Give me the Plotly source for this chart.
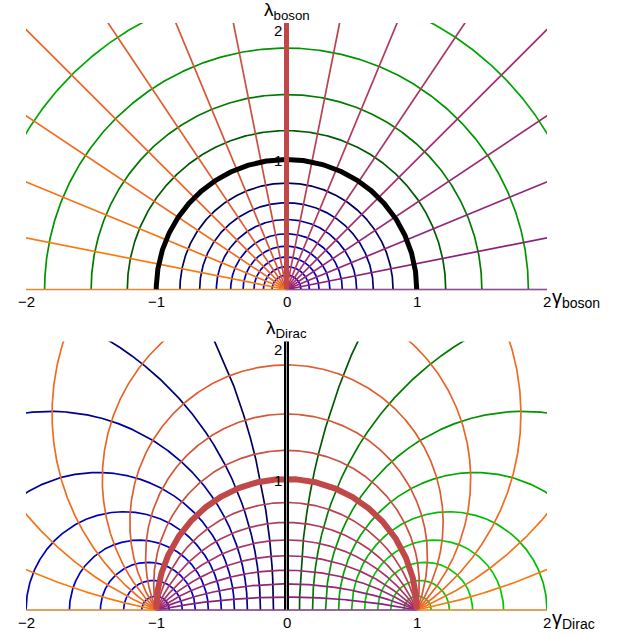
import numpy as np
import plotly.graph_objects as go

# ---------------- data ----------------
# circle family: Dirac-axis crossing a = k/10  (boson radius r = (1+a)/(1-a))
circle_params = [-0.9, -0.8, -0.7, -0.6, -0.5, -0.4, -0.3, -0.2, -0.1, 0.0,
                 0.1, 0.2, 0.3, 0.4, 0.5, 0.6, 0.7, 0.8, 0.9]
# ray family: angle index k, theta = k*pi/16
ray_index = list(range(17))
ray_divisions = 16
x_ticks = [-2, -1, 0, 1, 2]
x_tick_labels = ["\u22122", "\u22121", "0", "1", "2"]
y_ticks = [1, 2]
y_tick_labels = ["1", "2"]
panel_titles_y = ["\u03bb<sub>boson</sub>", "\u03bb<sub>Dirac</sub>"]
panel_titles_x = ["\u03b3<sub>boson</sub>", "\u03b3<sub>Dirac</sub>"]

# ---------------- styles ----------------
ray_anchor_t = [0.0, 0.25, 0.5, 0.75, 1.0]
ray_anchor_rgb = [(128, 30, 128), (165, 45, 112), (192, 72, 72), (232, 102, 40), (255, 130, 8)]


def ray_color(k):
    t = k / ray_divisions
    rgb = [np.interp(t, ray_anchor_t, [c[i] for c in ray_anchor_rgb]) for i in range(3)]
    return "rgb(%d,%d,%d)" % tuple(int(round(v)) for v in rgb)


def circle_color(a):
    if a == 0:
        return "black"
    s = abs(a) ** 0.45
    if a > 0:
        return "rgb(0,%d,0)" % min(205, int(255 * s))
    return "rgb(0,0,%d)" % min(235, int(255 * s))


THIN = 1.7
THICK = 5
THICK_B = 6
YMIN, YMAX = -0.03, 2.05
W, H = 620, 637


def to_dirac(z):
    with np.errstate(divide="ignore", invalid="ignore"):
        w = (z - 1) / (z + 1)
    return w


def xy(w, limit=30):
    x = np.real(w).astype(float)
    y = np.imag(w).astype(float)
    bad = ~np.isfinite(x) | ~np.isfinite(y) | (np.abs(w) > limit)
    xs = [None if b else float(v) for v, b in zip(x, bad)]
    ys = [None if b else float(v) for v, b in zip(y, bad)]
    return xs, ys


fig = go.Figure()


def add(xs, ys, color, width, xa, ya):
    fig.add_trace(go.Scatter(x=xs, y=ys, mode="lines", line=dict(color=color, width=width),
                             xaxis=xa, yaxis=ya, hoverinfo="skip", showlegend=False,
                             connectgaps=False))


# ---------------- top panel (boson) ----------------
th = np.linspace(0, np.pi, 600)
for a in circle_params:
    if a == 0:
        continue
    r = (1 + a) / (1 - a)
    z = r * np.exp(1j * th)
    add(list(z.real), list(z.imag), circle_color(a), THIN, "x", "y")
for k in ray_index:
    if 2 * k == ray_divisions:
        continue
    ang = k * np.pi / ray_divisions
    t = np.array([0.0, 3.0])
    z = t * np.exp(1j * ang)
    add(list(z.real), list(z.imag), ray_color(k), THIN, "x", "y")
z = np.exp(1j * th)
add(list(z.real), list(z.imag), "black", THICK, "x", "y")
t = np.array([0.0, 3.0])
z = t * np.exp(1j * np.pi / 2)
add(list(z.real), list(z.imag), ray_color(ray_divisions // 2), THICK, "x", "y")

# ---------------- bottom panel (Dirac) ----------------
th2 = np.linspace(0, np.pi, 4000)
for a in circle_params:
    if a == 0:
        continue
    r = (1 + a) / (1 - a)
    xs, ys = xy(to_dirac(r * np.exp(1j * th2)))
    add(xs, ys, circle_color(a), THIN, "x2", "y2")
s = np.linspace(-12, 12, 6000)
tt = np.exp(s)
for k in ray_index:
    if 2 * k == ray_divisions:
        continue
    ang = k * np.pi / ray_divisions
    xs, ys = xy(to_dirac(tt * np.exp(1j * ang)))
    add(xs, ys, ray_color(k), THIN, "x2", "y2")
xs, ys = xy(to_dirac(tt * np.exp(1j * np.pi / 2)))
add(xs, ys, ray_color(ray_divisions // 2), THICK_B, "x2", "y2")
xs, ys = xy(to_dirac(np.exp(1j * th2[:-1])))
add(xs, ys, "black", THICK, "x2", "y2")

# ---------------- axes / layout ----------------
x_dom = [26 / W, 547 / W]
top_y0_px, top_unit = 289.5, 130.0
bot_y0_px, bot_unit = 610.0, 131.0


def ydom(y0px, unit):
    bottom_px = y0px - YMIN * unit
    top_px = y0px - YMAX * unit
    return [1 - bottom_px / H, 1 - top_px / H]


ax_common = dict(visible=False, showgrid=False, zeroline=False, fixedrange=True)
fig.update_layout(
    width=W, height=H, margin=dict(l=0, r=0, t=0, b=0),
    paper_bgcolor="white", plot_bgcolor="white",
    xaxis=dict(domain=x_dom, range=[x_ticks[0], x_ticks[-1]], anchor="y", **ax_common),
    yaxis=dict(domain=ydom(top_y0_px, top_unit), range=[YMIN, YMAX], anchor="x", **ax_common),
    xaxis2=dict(domain=x_dom, range=[x_ticks[0], x_ticks[-1]], anchor="y2", **ax_common),
    yaxis2=dict(domain=ydom(bot_y0_px, bot_unit), range=[YMIN, YMAX], anchor="x2", **ax_common),
)

FONT = "Liberation Sans, Arial, Helvetica, sans-serif"
ann = []
shapes = []
for p, (xr, yr) in enumerate([("x", "y"), ("x2", "y2")]):
    # horizontal axis drawn faintly on top
    shapes.append(dict(type="line", xref=xr, yref=yr, x0=x_ticks[0], x1=x_ticks[-1], y0=0, y1=0,
                       line=dict(color="rgba(150,150,150,0.45)", width=1), layer="above"))
    if p == 1:
        shapes.append(dict(type="line", xref=xr, yref=yr, x0=0, x1=0, y0=0, y1=YMAX,
                           line=dict(color="rgba(175,175,175,1)", width=1), layer="above"))
    for v, lab in zip(x_ticks, x_tick_labels):
        ann.append(dict(x=v, y=0, xref=xr, yref=yr, text=lab, showarrow=False,
                        xanchor="center", yanchor="middle", yshift=-12,
                        font=dict(family=FONT, size=15, color="black")))
    for v, lab in zip(y_ticks, y_tick_labels):
        ann.append(dict(x=0, y=v, xref=xr, yref=yr, text=lab, showarrow=False,
                        xanchor="right", yanchor="middle", xshift=-3, yshift=-1,
                        font=dict(family=FONT, size=15, color="black")))
    ann.append(dict(x=0, y=YMAX, xref=xr, yref=yr, text=panel_titles_y[p], showarrow=False,
                    xanchor="center", yanchor="bottom", yshift=-1, borderpad=0,
                    font=dict(family=FONT, size=19, color="black")))
    ann.append(dict(x=x_ticks[-1], y=0, xref=xr, yref=yr, text=panel_titles_x[p], showarrow=False,
                    xanchor="left", yanchor="middle", xshift=3, yshift=-9,
                    font=dict(family=FONT, size=20, color="black")))
fig.update_layout(annotations=ann, shapes=shapes)

fig.write_html("out.html", config={"displayModeBar": False, "staticPlot": True},
               post_script="document.body.style.margin='0px';document.body.style.overflow='hidden';")
